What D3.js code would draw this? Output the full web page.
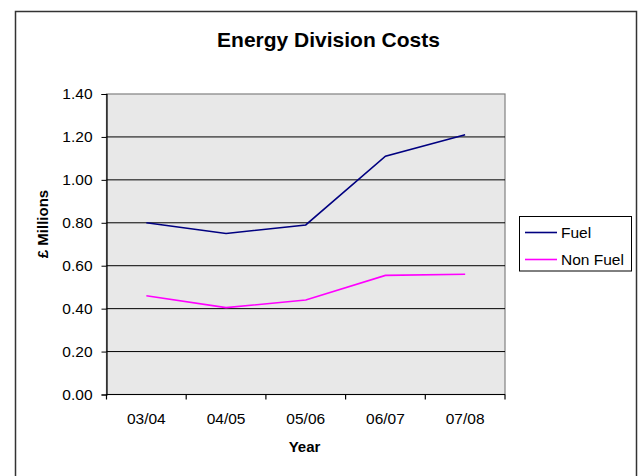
<!DOCTYPE html>
<html>
<head>
<meta charset="utf-8">
<script src="https://cdn.jsdelivr.net/npm/d3@7"></script>
<style>
  html, body { margin: 0; padding: 0; background: #fff; }
  svg { display: block; font-family: "Liberation Sans", Arial, sans-serif; }
</style>
</head>
<body>
<script>
// Financial years and cost series (£ millions)
const years = ["03/04", "04/05", "05/06", "06/07", "07/08"];
const fuel = [0.80, 0.75, 0.79, 1.11, 1.21];
const nonFuel = [0.46, 0.405, 0.44, 0.555, 0.56];
const yTicks = [0, 0.2, 0.4, 0.6, 0.8, 1.0, 1.2, 1.4];
const seriesNames = ["Fuel", "Non Fuel"];
const seriesColors = ["#000080", "#ff00ff"];

const W = 641, H = 476;
const plot = { left: 106.5, right: 505, top: 94, bottom: 394.5 };

const svg = d3.select("body").append("svg").attr("width", W).attr("height", H);

// chart frame
svg.append("rect")
  .attr("x", 15.5).attr("y", 11.5)
  .attr("width", 621).attr("height", 480)
  .attr("fill", "#fff").attr("stroke", "#333").attr("stroke-width", 1.5);

const x = d3.scaleBand().domain(years).range([plot.left, plot.right]).padding(0);
const y = d3.scaleLinear().domain([0, 1.4]).range([plot.bottom, plot.top]);

// plot area
svg.append("rect")
  .attr("x", plot.left).attr("y", plot.top)
  .attr("width", plot.right - plot.left).attr("height", plot.bottom - plot.top)
  .attr("fill", "#e8e8e8").attr("stroke", "#808080").attr("stroke-width", 1.2);

// horizontal gridlines
svg.append("g").selectAll("line")
  .data(yTicks.filter(d => d > 0 && d < 1.4))
  .join("line")
  .attr("x1", plot.left).attr("x2", plot.right)
  .attr("y1", d => y(d)).attr("y2", d => y(d))
  .attr("stroke", "#000").attr("stroke-width", 1);

// y axis
const yAxis = svg.append("g")
  .attr("transform", `translate(${plot.left},0)`)
  .call(d3.axisLeft(y).tickValues(yTicks).tickFormat(d3.format(".2f")).tickSize(5).tickPadding(9));
yAxis.select(".domain").attr("stroke", "#000").attr("stroke-width", 1.2);
yAxis.selectAll(".tick line").attr("stroke", "#000");
yAxis.selectAll("text").attr("font-size", 15.5).attr("fill", "#000")
  .attr("font-family", "Liberation Sans, Arial, sans-serif");

// x axis: ticks on category boundaries, labels centred in each band
const xAxisG = svg.append("g").attr("transform", `translate(0,${plot.bottom})`);
xAxisG.append("line")
  .attr("x1", plot.left).attr("x2", plot.right)
  .attr("stroke", "#000").attr("stroke-width", 1.2);
const bounds = years.map(d => x(d)).concat([x(years[years.length - 1]) + x.bandwidth()]);
xAxisG.selectAll("line.tk").data(bounds).join("line").attr("class", "tk")
  .attr("x1", d => d).attr("x2", d => d).attr("y1", 0).attr("y2", 5)
  .attr("stroke", "#000").attr("stroke-width", 1.2);
xAxisG.selectAll("text").data(years).join("text")
  .attr("x", d => x(d) + x.bandwidth() / 2).attr("y", 29)
  .attr("text-anchor", "middle").attr("font-size", 15.5).attr("fill", "#000")
  .text(d => d);

// series lines
const line = d3.line()
  .x((d, i) => x(years[i]) + x.bandwidth() / 2)
  .y(d => y(d));
[fuel, nonFuel].forEach((s, i) => {
  svg.append("path").datum(s)
    .attr("d", line).attr("fill", "none")
    .attr("stroke", seriesColors[i]).attr("stroke-width", 1.6)
    .attr("stroke-linejoin", "miter");
});

// titles
svg.append("text").attr("x", 328.5).attr("y", 47)
  .attr("text-anchor", "middle").attr("font-size", 21).attr("font-weight", "bold")
  .text("Energy Division Costs");
svg.append("text").attr("x", 304.5).attr("y", 452)
  .attr("text-anchor", "middle").attr("font-size", 15).attr("font-weight", "bold")
  .text("Year");
svg.append("text")
  .attr("transform", "translate(48,224) rotate(-90)")
  .attr("text-anchor", "middle").attr("font-size", 15).attr("font-weight", "bold")
  .text("£ Millions");

// legend
const lg = svg.append("g");
lg.append("rect").attr("x", 519.5).attr("y", 216.5).attr("width", 112).attr("height", 54.5)
  .attr("fill", "#fff").attr("stroke", "#000").attr("stroke-width", 1);
seriesNames.forEach((n, i) => {
  const ly = 232.5 + i * 27;
  lg.append("line").attr("x1", 525).attr("x2", 557).attr("y1", ly).attr("y2", ly)
    .attr("stroke", seriesColors[i]).attr("stroke-width", 1.6);
  lg.append("text").attr("x", 561).attr("y", ly + 3.8 + 0).attr("dy", "0.12em")
    .attr("font-size", 15.5).attr("fill", "#000").text(n);
});
</script>
</body>
</html>
